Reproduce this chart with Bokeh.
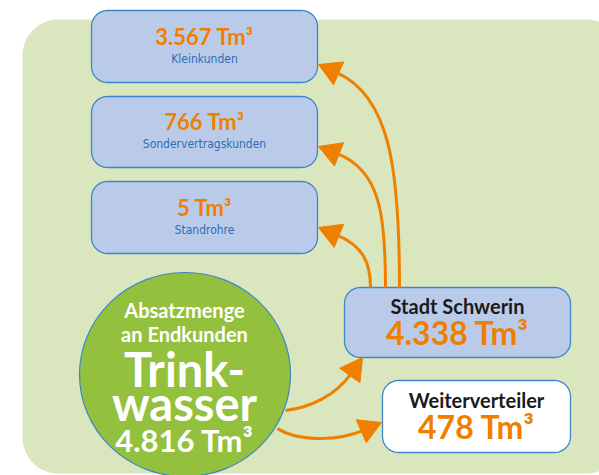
import numpy as np
from bokeh.plotting import figure
from bokeh.models import Range1d
from bokeh.core.properties import value
from bokeh.embed import file_html
from bokeh.resources import INLINE

# ---------------- data ----------------
UNIT = "Tm³"
customer_labels = ["Kleinkunden", "Sondervertragskunden", "Standrohre"]
customer_values = [3567, 766, 5]
city_label = "Stadt Schwerin"
city_value = 4338
reseller_label = "Weiterverteiler"
reseller_value = 478
total_caption = ["Absatzmenge", "an Endkunden"]
total_title = ["Trink-", "wasser"]
total_value = 4816


def fmt(v):
    return f"{v:,}".replace(",", ".") + " " + UNIT


# ---------------- style ----------------
ORANGE = "#f07f00"
BOX_FILL = "#bacbea"
BOX_LINE = "#3f86c8"
LABEL_BLUE = "#2c6db5"
BG_GREEN = "#d9e6be"
CIRCLE_GREEN = "#93c13e"
BOLD_FONT = "Lato"
NARROW_FONT = "'DejaVu Sans Condensed', 'Liberation Sans Narrow', 'Roboto'"

W, H = 599, 475
p = figure(width=W, height=H, x_range=Range1d(0, W), y_range=Range1d(H, 0),
           output_backend="svg", toolbar_location=None, min_border=0,
           x_axis_type=None, y_axis_type=None)
p.grid.visible = False
p.outline_line_color = None
p.background_fill_color = "white"
p.border_fill_color = "white"


def rrect(l, t, r, b, rad, n=14):
    xs, ys = [], []
    for cx, cy, a0 in [(r - rad, t + rad, -90), (r - rad, b - rad, 0),
                       (l + rad, b - rad, 90), (l + rad, t + rad, 180)]:
        a = np.radians(np.linspace(a0, a0 + 90, n))
        xs.extend(cx + rad * np.cos(a))
        ys.extend(cy + rad * np.sin(a))
    return xs, ys


# background panel
bx, by = rrect(22, 19, 622, 473, 36)
p.patch(bx, by, fill_color=BG_GREEN, line_color=None)

# boxes layout: (left, top, right, bottom)
left_boxes = [(91, 10, 317, 82), (91, 96, 317, 167), (91, 181, 317, 253)]
city_box = (344, 287, 570, 357)
reseller_box = (382, 380, 570, 452)

xs, ys, fills = [], [], []
for bxy in left_boxes + [city_box]:
    a, b = rrect(*bxy, 16)
    xs.append(a); ys.append(b); fills.append(BOX_FILL)
a, b = rrect(*reseller_box, 16)
xs.append(a); ys.append(b); fills.append("white")
p.patches(xs, ys, fill_color=fills, line_color=BOX_LINE, line_width=1.3)

# big circle
p.ellipse(x=[184.5], y=[374], width=[211], height=[204],
          fill_color=CIRCLE_GREEN, line_color="#3f86c8", line_width=1.2)

# arrows: start, control1, control2, tip
arrows = [
    ((399, 287), (399, 170), (390, 96), (318, 64)),
    ((385, 287), (385, 215), (380, 170), (318, 146)),
    ((370, 287), (370, 262), (362, 245), (318, 227)),
    ((285, 410), (310, 407), (335, 395), (362, 357)),
    ((277, 428), (295, 440), (335, 442), (381, 422)),
]
HL, HW = 22, 12.5
bz = dict(x0=[], y0=[], x1=[], y1=[], cx0=[], cy0=[], cx1=[], cy1=[])
hx, hy = [], []
for p0, c1, c2, tip in arrows:
    d = np.array(tip, float) - np.array(c2, float)
    d /= np.linalg.norm(d)
    nrm = np.array([-d[1], d[0]])
    base = np.array(tip, float) - HL * d
    end = base + 2 * d
    bz["x0"].append(p0[0]); bz["y0"].append(p0[1])
    bz["x1"].append(end[0]); bz["y1"].append(end[1])
    bz["cx0"].append(c1[0]); bz["cy0"].append(c1[1])
    bz["cx1"].append(c2[0]); bz["cy1"].append(c2[1])
    c_a = base + HW * nrm
    c_b = base - HW * nrm
    hx.append([tip[0], c_a[0], c_b[0]])
    hy.append([tip[1], c_a[1], c_b[1]])
p.bezier(**bz, line_color=ORANGE, line_width=3)
p.patches(hx, hy, fill_color=ORANGE, line_color=ORANGE, line_width=1)

BASE_K = 0.4  # compensation between requested and rendered baseline


def txt(x, y, t, size, color, font=BOLD_FONT, style="bold"):
    yy = [v - BASE_K * size for v in y]
    p.text(x=x, y=yy, text=t, text_font=value(font), text_font_style=style,
           text_font_size=value(f"{size}px"), text_color=color,
           text_align="center", text_baseline="alphabetic")


# left boxes
cx = [(b[0] + b[2]) / 2 for b in left_boxes]
txt(cx, [45, 130, 216], [fmt(v) for v in customer_values], 22, ORANGE)
txt(cx, [63, 148, 234], customer_labels, 12, LABEL_BLUE, NARROW_FONT, "normal")

# city box
ccx = (city_box[0] + city_box[2]) / 2
txt([ccx], [313], [city_label], 20, "#1a1a1a")
txt([ccx], [345], [fmt(city_value)], 32, ORANGE)

# reseller box
rcx = (reseller_box[0] + reseller_box[2]) / 2
txt([rcx], [407], [reseller_label], 20, "#1a1a1a")
txt([rcx], [439], [fmt(reseller_value)], 32, ORANGE)

# circle text
txt([184, 184], [317, 341], total_caption, 20, "white")
txt([184, 184], [387, 421], total_title, 47, "white")
txt([184], [452], [fmt(total_value)], 31, "white")

open("out.html", "w").write(file_html(p, INLINE))
